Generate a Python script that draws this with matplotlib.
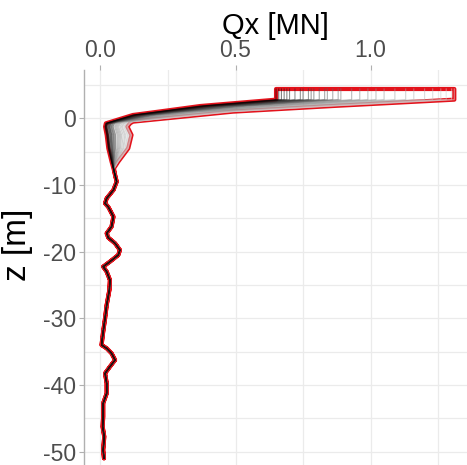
import numpy as np
import matplotlib
matplotlib.use("Agg")
import matplotlib.pyplot as plt

plt.rcParams['font.family'] = ['Liberation Sans', 'DejaVu Sans']

# Shear force at pile head for each load case [MN]
head_load = [0.65, 0.66, 0.67, 0.68, 0.69, 0.70, 0.72, 0.74, 0.75, 0.77, 0.78,
             0.79, 0.81, 0.83, 0.84, 0.86, 0.88, 0.89, 0.93, 0.96, 0.99, 1.02,
             1.05, 1.09, 1.13, 1.16, 1.20, 1.23, 1.26, 1.28, 1.30, 1.31]

# Upper part of the profile (pile head down to -8.5 m): smallest and largest load case
z_upper = [4.4, 2.8, 1.85, 1.0, 0.5, -0.5, -0.75, -1.25, -2.5, -4.5, -6.5, -7.5, -8.5]
q_upper_min = [0.65, 0.65, 0.37, 0.214, 0.12, 0.04, 0.02, 0.017, 0.023, 0.029, 0.041, 0.048, 0.054]
q_upper_max = [1.31, 1.31, 0.861, 0.49, 0.367, 0.12, 0.11, 0.10, 0.115, 0.103, 0.066, 0.05, 0.054]

# Lower part, common to all load cases
z_lower = [-9.5, -10.75, -12.0, -12.75, -13.3, -14.75, -16.25, -17.25, -17.9, -18.75,
           -19.75, -20.5, -21.5, -22.25, -23.0, -24.25, -25.75, -28.0, -30.0, -32.0,
           -34.0, -34.5, -35.25, -36.25, -37.25, -38.25, -39.75, -41.25, -42.75,
           -44.75, -46.25, -47.75, -49.75, -51.0]
q_lower = [0.060, 0.048, 0.023, 0.017, 0.029, 0.048, 0.041, 0.023, 0.029, 0.054,
           0.072, 0.066, 0.035, 0.010, 0.023, 0.035, 0.033, 0.023, 0.017, 0.010,
           0.004, 0.023, 0.041, 0.054, 0.035, 0.017, 0.023, 0.023, 0.010,
           0.010, 0.008, 0.014, 0.010, 0.013]

x_ticks = [0.0, 0.5, 1.0]
x_tick_labels = ["0.0", "0.5", "1.0"]
y_ticks = [0, -10, -20, -30, -40, -50]
y_tick_labels = ["0", "-10", "-20", "-30", "-40", "-50"]

# Build one profile per load case
loads = np.array(head_load)
qmin_u = np.array(q_upper_min)
qmax_u = np.array(q_upper_max)
w = (loads - loads.min()) / (loads.max() - loads.min())
z_all = np.concatenate([z_upper, z_lower])
profiles = []
for wi in w:
    q_up = qmin_u + wi * (qmax_u - qmin_u)
    profiles.append(np.concatenate([q_up, q_lower]))
profiles = np.array(profiles)

env_lo = profiles.min(axis=0)
env_hi = profiles.max(axis=0)

fig = plt.figure(figsize=(4.67, 4.65), dpi=100)
ax = fig.add_axes([84 / 467, 0.0, 1 - 84 / 467, 1 - 70 / 465])

# envelope outline
ax.fill(np.concatenate([env_lo, env_hi[::-1]]),
        np.concatenate([z_all, z_all[::-1]]),
        facecolor="none", edgecolor="#e3121b", linewidth=3.0, zorder=2,
        joinstyle="round")

n = len(loads)
for i in range(n - 1, -1, -1):
    t = i / (n - 1)
    g = 0.88 * t ** 1.1
    ax.plot(profiles[i], z_all, color=(g, g, g), linewidth=0.8, alpha=0.5,
            zorder=3, solid_joinstyle="round")
# common lower part drawn on top
ax.plot(q_lower, z_lower, color="#3a0808", linewidth=0.7, zorder=4,
        solid_joinstyle="round")

ax.set_xlim(-0.061, 1.357)
ax.set_ylim(-52.0, 7.25)

ax.xaxis.tick_top()
ax.xaxis.set_label_position("top")
ax.set_xticks(x_ticks)
ax.set_xticklabels(x_tick_labels)
ax.set_xticks([0.25, 0.75, 1.25], minor=True)
ax.set_yticks(y_ticks)
ax.set_yticklabels(y_tick_labels)
ax.set_yticks([5, -5, -15, -25, -35, -45], minor=True)

ax.grid(True, which="both", color="#ebebeb", linewidth=0.9)
ax.set_axisbelow(True)
for s in ["top", "right", "bottom"]:
    ax.spines[s].set_visible(False)
ax.spines["left"].set_color("#b0b0b0")
ax.spines["left"].set_linewidth(1.0)

ax.tick_params(axis="both", which="major", labelsize=16.5, labelcolor="#4d4d4d",
               color="#b0b0b0", length=3.5, width=0.8, pad=2)
ax.tick_params(axis="both", which="minor", length=0)
ax.tick_params(axis="x", which="major", top=True, bottom=False)

ax.set_xlabel("Qx [MN]", fontsize=21, color="black", labelpad=4)
ax.set_ylabel("z [m]", fontsize=24, color="black")
ax.yaxis.set_label_coords(-0.133, 0.557)

fig.savefig("out.png", dpi=100)
